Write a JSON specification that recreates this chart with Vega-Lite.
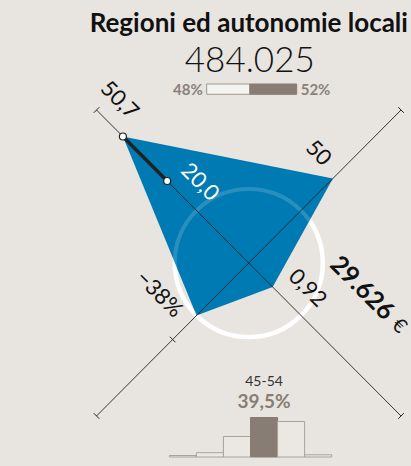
{
  "$schema": "https://vega.github.io/schema/vega-lite/v6.json",
  "width": 411,
  "height": 466,
  "autosize": {"type": "fit", "contains": "padding"},
  "padding": 0,
  "background": "#e8e5e0",
  "config": {"view": {"stroke": null}, "font": "Lato"},
  "datasets": {
    "header": [{"title": "Regioni ed autonomie locali", "total": "484.025", "amount": "29.626", "unit": "€"}],
    "axes": [
      {"axis": "NW-SE", "x": -153, "y": 153, "x2": 153, "y2": -153},
      {"axis": "SW-NE", "x": -153, "y": -153, "x2": 153, "y2": 153}
    ],
    "ticks": [
      {"x": -155.8, "y": 150.2, "x2": -150.2, "y2": 155.8},
      {"x": 150.2, "y": -155.8, "x2": 155.8, "y2": -150.2},
      {"x": 150.2, "y": 155.8, "x2": 155.8, "y2": 150.2},
      {"x": -155.8, "y": -150.2, "x2": -150.2, "y2": -155.8},
      {"x": -79.3, "y": -73.7, "x2": -73.7, "y2": -79.3}
    ],
    "poly": [
      {"axis": "NW", "x": -126.5, "y": 126.5, "o": 1},
      {"axis": "NE", "x": 84.5, "y": 84.5, "o": 2},
      {"axis": "SE", "x": 24, "y": -24, "o": 3},
      {"axis": "SW", "x": -52.5, "y": -52.5, "o": 4}
    ],
    "ref": [{"x": -126.5, "y": 126.5, "x2": -82, "y2": 82}],
    "dots": [{"x": -126.5, "y": 126.5}, {"x": -82, "y": 82}],
    "center": [{"x": 0, "y": 0}],
    "labels": [
      {"label": "50,7", "x": -130, "y": 163},
      {"label": "20,0", "x": -49, "y": 81},
      {"label": "50", "x": 70, "y": 110},
      {"label": "0,92", "x": 59, "y": -25},
      {"label": "−38%", "x": -90, "y": -31}
    ],
    "gender": [
      {"row": "tot", "g": "F", "share": 48, "lab": "48%", "o": 1},
      {"row": "tot", "g": "M", "share": 52, "lab": "52%", "o": 2}
    ],
    "age": [
      {"age": "15-24", "pct": 1.5, "lab": "1,5%"},
      {"age": "25-34", "pct": 4.3, "lab": "4,3%"},
      {"age": "35-44", "pct": 20.5, "lab": "20,5%"},
      {"age": "45-54", "pct": 39.5, "lab": "39,5%"},
      {"age": "55-64", "pct": 35.5, "lab": "35,5%"},
      {"age": "65+", "pct": 2.2, "lab": "2,2%"}
    ]
  },
  "resolve": {"scale": {"x": "independent", "y": "independent"}},
  "layer": [
    {
      "layer": [
        {
          "data": {"name": "center"},
          "mark": {"type": "point", "shape": "circle", "filled": false, "stroke": "#ffffff", "strokeWidth": 4.5, "size": 21904, "opacity": 1},
          "encoding": {
            "x": {"field": "x", "type": "quantitative", "scale": {"domain": [-250, 161], "nice": false, "zero": false}, "axis": null},
            "y": {"field": "y", "type": "quantitative", "scale": {"domain": [-203, 263], "nice": false, "zero": false}, "axis": null}
          }
        },
        {
          "data": {"name": "poly"},
          "mark": {"type": "line", "interpolate": "linear-closed", "fill": "#007ab3", "stroke": "#007ab3", "strokeWidth": 0},
          "encoding": {
            "x": {"field": "x", "type": "quantitative", "scale": {"domain": [-250, 161], "nice": false, "zero": false}, "axis": null},
            "y": {"field": "y", "type": "quantitative", "scale": {"domain": [-203, 263], "nice": false, "zero": false}, "axis": null},
            "order": {"field": "o", "type": "quantitative"}
          }
        },
        {
          "data": {"name": "center"},
          "mark": {"type": "point", "shape": "circle", "filled": false, "stroke": "#ffffff", "strokeWidth": 4, "size": 21904, "opacity": 1, "strokeOpacity": 0.16},
          "encoding": {
            "x": {"field": "x", "type": "quantitative", "scale": {"domain": [-250, 161], "nice": false, "zero": false}, "axis": null},
            "y": {"field": "y", "type": "quantitative", "scale": {"domain": [-203, 263], "nice": false, "zero": false}, "axis": null}
          }
        },
        {
          "data": {"name": "axes"},
          "mark": {"type": "rule", "color": "#222222", "strokeWidth": 0.9},
          "encoding": {
            "x": {"field": "x", "type": "quantitative", "scale": {"domain": [-250, 161], "nice": false, "zero": false}, "axis": null},
            "y": {"field": "y", "type": "quantitative", "scale": {"domain": [-203, 263], "nice": false, "zero": false}, "axis": null},
            "x2": {"field": "x2"},
            "y2": {"field": "y2"}
          }
        },
        {
          "data": {"name": "ticks"},
          "mark": {"type": "rule", "color": "#222222", "strokeWidth": 1},
          "encoding": {
            "x": {"field": "x", "type": "quantitative", "scale": {"domain": [-250, 161], "nice": false, "zero": false}, "axis": null},
            "y": {"field": "y", "type": "quantitative", "scale": {"domain": [-203, 263], "nice": false, "zero": false}, "axis": null},
            "x2": {"field": "x2"},
            "y2": {"field": "y2"}
          }
        },
        {
          "data": {"name": "ref"},
          "mark": {"type": "rule", "color": "#222222", "strokeWidth": 3.5},
          "encoding": {
            "x": {"field": "x", "type": "quantitative", "scale": {"domain": [-250, 161], "nice": false, "zero": false}, "axis": null},
            "y": {"field": "y", "type": "quantitative", "scale": {"domain": [-203, 263], "nice": false, "zero": false}, "axis": null},
            "x2": {"field": "x2"},
            "y2": {"field": "y2"}
          }
        },
        {
          "data": {"name": "dots"},
          "mark": {"type": "point", "shape": "circle", "filled": true, "fill": "#ffffff", "stroke": "#222222", "strokeWidth": 1.2, "size": 49, "opacity": 1},
          "encoding": {
            "x": {"field": "x", "type": "quantitative", "scale": {"domain": [-250, 161], "nice": false, "zero": false}, "axis": null},
            "y": {"field": "y", "type": "quantitative", "scale": {"domain": [-203, 263], "nice": false, "zero": false}, "axis": null}
          }
        },
        {
          "data": {"name": "labels"},
          "mark": {"type": "text", "angle": 45, "align": "center", "baseline": "middle", "fontSize": 22},
          "encoding": {
            "x": {"field": "x", "type": "quantitative", "scale": {"domain": [-250, 161], "nice": false, "zero": false}, "axis": null},
            "y": {"field": "y", "type": "quantitative", "scale": {"domain": [-203, 263], "nice": false, "zero": false}, "axis": null},
            "text": {"field": "label"},
            "color": {"condition": {"test": "datum.label === '20,0'", "value": "#ffffff"}, "value": "#111111"}
          }
        },
        {
          "data": {"name": "header"},
          "mark": {"type": "text", "align": "center", "baseline": "alphabetic", "fontSize": 26, "fontWeight": "bold", "color": "#111111"},
          "encoding": {
            "x": {"datum": 0, "type": "quantitative", "scale": {"domain": [-250, 161], "nice": false, "zero": false}, "axis": null},
            "y": {"datum": 231, "type": "quantitative", "scale": {"domain": [-203, 263], "nice": false, "zero": false}, "axis": null},
            "text": {"field": "title"}
          }
        },
        {
          "data": {"name": "header"},
          "mark": {"type": "text", "align": "center", "baseline": "alphabetic", "fontSize": 35, "fontWeight": 300, "color": "#111111"},
          "encoding": {
            "x": {"datum": 1, "type": "quantitative", "scale": {"domain": [-250, 161], "nice": false, "zero": false}, "axis": null},
            "y": {"datum": 191, "type": "quantitative", "scale": {"domain": [-203, 263], "nice": false, "zero": false}, "axis": null},
            "text": {"field": "total"}
          }
        },
        {
          "data": {"name": "header"},
          "mark": {"type": "text", "angle": 45, "align": "center", "baseline": "middle", "fontSize": 25, "fontWeight": "bold", "color": "#111111"},
          "encoding": {
            "x": {"datum": 114, "type": "quantitative", "scale": {"domain": [-250, 161], "nice": false, "zero": false}, "axis": null},
            "y": {"datum": -25, "type": "quantitative", "scale": {"domain": [-203, 263], "nice": false, "zero": false}, "axis": null},
            "text": {"field": "amount"}
          }
        },
        {
          "data": {"name": "header"},
          "mark": {"type": "text", "angle": 45, "align": "center", "baseline": "middle", "fontSize": 20, "color": "#111111"},
          "encoding": {
            "x": {"datum": 151, "type": "quantitative", "scale": {"domain": [-250, 161], "nice": false, "zero": false}, "axis": null},
            "y": {"datum": -63, "type": "quantitative", "scale": {"domain": [-203, 263], "nice": false, "zero": false}, "axis": null},
            "text": {"field": "unit"}
          }
        }
      ]
    },
    {
      "data": {"name": "gender"},
      "transform": [{"stack": "share", "groupby": ["row"], "sort": [{"field": "o", "order": "ascending"}], "as": ["s0", "s1"]}],
      "layer": [
        {
          "mark": {"type": "bar", "strokeWidth": 1},
          "encoding": {
            "x": {"field": "s0", "type": "quantitative", "scale": {"domain": [0, 100], "range": [206.7, 296.7], "nice": false, "zero": false}, "axis": null},
            "x2": {"field": "s1"},
            "y": {"field": "row", "type": "nominal", "scale": {"range": [84, 94.3], "paddingInner": 0, "paddingOuter": 0}, "axis": null},
            "fill": {"condition": {"test": "datum.o === 1", "value": "#f5f3f0"}, "value": "#877d74"},
            "stroke": {"condition": {"test": "datum.o === 1", "value": "#a1988f"}, "value": "#877d74"}
          }
        },
        {
          "transform": [{"filter": "datum.o === 1"}],
          "mark": {"type": "text", "align": "right", "baseline": "middle", "dx": -4, "dy": 1, "fontSize": 15, "fontWeight": "bold", "color": "#8a8079"},
          "encoding": {
            "x": {"field": "s0", "type": "quantitative", "scale": {"domain": [0, 100], "range": [206.7, 296.7], "nice": false, "zero": false}, "axis": null},
            "y": {"field": "row", "type": "nominal", "scale": {"range": [84, 94.3], "paddingInner": 0, "paddingOuter": 0}, "axis": null},
            "text": {"field": "lab"}
          }
        },
        {
          "transform": [{"filter": "datum.o === 2"}],
          "mark": {"type": "text", "align": "left", "baseline": "middle", "dx": 4, "dy": 1, "fontSize": 15, "fontWeight": "bold", "color": "#8a8079"},
          "encoding": {
            "x": {"field": "s1", "type": "quantitative", "scale": {"domain": [0, 100], "range": [206.7, 296.7], "nice": false, "zero": false}, "axis": null},
            "y": {"field": "row", "type": "nominal", "scale": {"range": [84, 94.3], "paddingInner": 0, "paddingOuter": 0}, "axis": null},
            "text": {"field": "lab"}
          }
        }
      ]
    },
    {
      "data": {"name": "age"},
      "layer": [
        {
          "mark": {"type": "bar", "strokeWidth": 1},
          "encoding": {
            "x": {"field": "age", "type": "ordinal", "sort": null, "scale": {"range": [169.3, 331.7], "paddingInner": 0, "paddingOuter": 0}, "axis": null},
            "y": {"field": "pct", "type": "quantitative", "scale": {"domain": [0, 100], "range": [457, 357], "nice": false}, "axis": null},
            "fill": {"condition": {"test": "datum.age === '45-54'", "value": "#877d74"}, "value": "#ebe8e3"},
            "stroke": {"condition": {"test": "datum.age === '45-54'", "value": "#877d74"}, "value": "#a9a29b"}
          }
        },
        {
          "transform": [{"filter": "datum.age === '45-54'"}],
          "mark": {"type": "text", "align": "center", "baseline": "alphabetic", "dy": -31.5, "fontSize": 14, "color": "#333333"},
          "encoding": {
            "x": {"field": "age", "type": "ordinal", "sort": null, "scale": {"range": [169.3, 331.7], "paddingInner": 0, "paddingOuter": 0}, "axis": null},
            "y": {"field": "pct", "type": "quantitative", "scale": {"domain": [0, 100], "range": [457, 357], "nice": false}, "axis": null},
            "text": {"field": "age"}
          }
        },
        {
          "transform": [{"filter": "datum.age === '45-54'"}],
          "mark": {"type": "text", "align": "center", "baseline": "alphabetic", "dy": -9.5, "fontSize": 19, "fontWeight": "bold", "color": "#877d74"},
          "encoding": {
            "x": {"field": "age", "type": "ordinal", "sort": null, "scale": {"range": [169.3, 331.7], "paddingInner": 0, "paddingOuter": 0}, "axis": null},
            "y": {"field": "pct", "type": "quantitative", "scale": {"domain": [0, 100], "range": [457, 357], "nice": false}, "axis": null},
            "text": {"field": "lab"}
          }
        }
      ]
    }
  ]
}
